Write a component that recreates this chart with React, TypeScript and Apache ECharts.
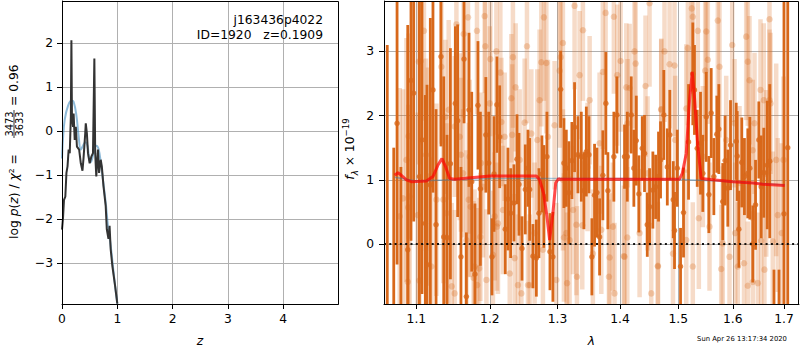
import React, { useEffect, useRef } from 'react';
import * as echarts from 'echarts';

const FONT = 'DejaVu Sans';

// ---------- Left panel: log p(z) ----------
const PZ_Z = [0, 0.018, 0.036, 0.06, 0.08, 0.1, 0.12, 0.14, 0.16, 0.17, 0.18, 0.2, 0.21, 0.23, 0.25, 0.27, 0.31, 0.34, 0.37, 0.39, 0.42, 0.43, 0.45, 0.47, 0.5, 0.53, 0.56, 0.585, 0.6, 0.62, 0.65, 0.67, 0.7, 0.72, 0.75, 0.79, 0.81, 0.84, 0.86, 0.88, 0.91, 0.96, 1.0];
const PZ_LOGP = [-2.24, -1.98, -1.56, -1.49, -0.95, -0.8, -0.42, -0.5, 0.33, 2.07, 0.33, 0.1, 0.4, -0.2, 0.1, -0.35, -0.42, -0.73, -0.9, -0.6, -0.05, 0.18, -0.05, -0.5, -0.73, -0.58, -0.5, 1.65, -0.5, -1.03, -0.42, -0.95, -0.65, -0.8, -1.25, -1.7, -2.23, -2.45, -2.15, -2.68, -3.06, -3.52, -3.92];
const PRIOR_Z = [0, 0.018, 0.05, 0.11, 0.17, 0.21, 0.26, 0.3, 0.34, 0.38, 0.42, 0.46, 0.49, 0.52, 0.57, 0.62, 0.66, 0.7, 0.74, 0.79, 0.83, 0.88, 0.92, 0.96, 1.0];
const PRIOR_LOGP = [-0.62, -0.17, 0.27, 0.58, 0.7, 0.67, 0.36, -0.1, -0.42, -0.33, -0.25, -0.33, -0.62, -0.7, -0.5, -0.33, -0.4, -0.7, -1.1, -1.62, -2.14, -2.6, -3.06, -3.52, -3.92];
const Z_TICKS = [0, 1, 2, 3, 4];
const LOGP_TICKS = [-3, -2, -1, 0, 1, 2];

// ---------- Right panel: spectrum ----------
const DARK_WAVE = [
  1.0751, 1.0930, 1.0965, 1.1039, 1.1073, 1.0888, 1.1117, 1.1139, 1.1183, 1.1218,
  1.1259, 1.1325, 1.1362, 1.1406, 1.1452, 1.1519, 1.1551, 1.1596, 1.1638, 1.1671,
  1.1707, 1.1745, 1.1790, 1.1832, 1.1866, 1.1943, 1.1983, 1.2030, 1.2059, 1.2101,
  1.2140, 1.2221, 1.2260, 1.2299, 1.2347, 1.2392, 1.2421, 1.2465, 1.2514, 1.2554,
  1.2579, 1.2628, 1.2679, 1.2718, 1.2763, 1.2793, 1.2839, 1.2885, 1.2930, 1.3049,
  1.3100, 1.3137, 1.3178, 1.3224, 1.3266, 1.3319, 1.3372, 1.3414, 1.3452, 1.3494,
  1.3541, 1.3584, 1.3622, 1.3665, 1.3718, 1.3767, 1.3800, 1.3898, 1.3948, 1.4075,
  1.4121, 1.4187, 1.4231, 1.4272, 1.4316, 1.4373, 1.4412, 1.4459, 1.4498, 1.4555,
  1.4602, 1.4653, 1.4688, 1.4745, 1.4806, 1.4850, 1.4911, 1.4933, 1.4982, 1.5040,
  1.5093, 1.5183, 1.5260, 1.5290, 1.5340, 1.5400, 1.5442, 1.5505, 1.5553, 1.5596,
  1.5645, 1.5700, 1.5738, 1.5811, 1.5855, 1.5906, 1.5957, 1.6065, 1.6084, 1.6115,
  1.6171, 1.6222, 1.6287, 1.6326, 1.6383, 1.6437, 1.6501, 1.6547, 1.6598, 1.6666,
  1.6716, 1.7000, 1.0627, 1.0709, 1.0800, 1.6800, 1.6900, 1.7076,
];
const DARK_FLUX = [
  1.88, 2.55, 2.35, 1.05, 1.62, -0.09, 0.32, -0.32, 0.92, 2.40,
  0.30, 2.92, 0.11, 0.10, 1.25, 2.19, 1.92, -0.20, 2.88, -0.82,
  2.09, 0.97, -0.47, 2.16, 0.86, 1.70, 1.26, -0.20, 1.09, 2.17,
  1.67, 0.23, 0.70, 0.48, 0.64, 1.32, 0.93, -0.07, 0.85, 1.18,
  0.85, -0.19, -0.22, 0.48, 1.09, 0.74, 1.36, -0.12, -0.20, 2.41,
  1.26, 1.18, 0.80, 1.30, 1.82, 1.39, 1.36, 0.83, 1.44, 1.39,
  -0.20, 0.76, 0.80, 0.11, 1.07, 2.19, 0.83, 1.36, 2.01, 1.36,
  1.36, 2.01, 1.18, 1.61, 0.78, 1.49, 1.41, 0.30, 0.58, 0.84,
  0.89, 1.05, 1.31, 2.01, 1.20, 1.70, 0.69, 0.21, 1.18, -0.35,
  0.49, 1.59, 2.65, 2.40, 1.49, 1.57, 1.10, 1.98, 0.77, 2.04,
  1.05, 1.71, 1.79, 0.66, 1.30, 0.87, 1.54, 1.60, 1.37, 0.23,
  1.27, 1.05, 1.10, 1.18, 0.00, 0.61, 1.62, 0.89, 1.11, 1.23,
  1.29, 0.47, -1.3, -1.5, -2.0, -1.2, -1.0, 1.5,
];
const DARK_ERR = [
  2.2, 2.5, 2.0, 3.0, 2.4, 3.5, 2.0, 2.8, 2.6, 1.6,
  1.8, 1.4, 2.5, 1.6, 1.8, 1.2, 1.5, 1.4, 1.0, 1.0,
  1.2, 1.4, 1.1, 1.0, 1.2, 0.9, 0.8, 0.6, 0.9, 0.75,
  0.8, 0.7, 0.8, 0.7, 0.6, 0.7, 0.8, 0.5, 0.7, 0.6,
  0.8, 0.5, 0.6, 0.7, 0.6, 0.8, 0.7, 0.6, 0.7, 0.6,
  0.7, 0.6, 0.8, 0.6, 0.7, 0.6, 0.7, 0.6, 0.7, 0.6,
  0.6, 0.8, 0.7, 0.6, 0.7, 0.8, 0.6, 0.7, 0.6, 0.5,
  0.7, 0.6, 0.6, 0.7, 0.6, 0.5, 0.6, 0.5, 0.6, 0.6,
  0.5, 0.7, 0.6, 0.7, 0.6, 0.7, 0.6, 0.6, 0.6, 0.6,
  0.7, 0.9, 0.8, 0.7, 0.6, 0.8, 0.6, 0.7, 0.6, 0.7,
  0.6, 0.6, 0.7, 0.6, 0.7, 0.6, 0.7, 0.6, 0.7, 0.6,
  0.7, 0.6, 0.7, 0.8, 0.6, 0.7, 0.6, 0.8, 0.7, 1.0,
  1.2, 4.0, 4.4, 3.0, 3.2, 0.8, 0.6, 3.0,
];

const LIGHT_WAVE = [
  1.1099, 1.1056, 1.1031, 1.1330, 1.1534, 1.1633, 1.1693, 1.1926, 1.1935, 1.2093,
  1.2007, 1.2332, 1.2539, 1.2309, 1.2728, 1.2793, 1.2754, 1.2830, 1.3034, 1.3266,
  1.3398, 1.3346, 1.3763, 1.3898, 1.4009, 1.4159, 1.4242, 1.4498, 1.4757, 1.4846,
  1.5351, 1.5505, 1.5534, 1.5719, 1.5750, 1.5989, 1.6256, 1.6287, 1.6711,
  1.0913, 1.0785, 1.1017, 1.1264, 1.1398, 1.1197, 1.1510, 1.1785, 1.1951, 1.1821,
  1.1671, 1.2101, 1.2286, 1.2456, 1.2187, 1.2579, 1.2778, 1.2983, 1.3188, 1.3137,
  1.3242, 1.3303, 1.3557, 1.3909, 1.4075, 1.3881, 1.4328, 1.4527, 1.4642, 1.4906,
  1.5142, 1.5260, 1.5369, 1.5565, 1.5811, 1.5938, 1.6096, 1.6213, 1.6481, 1.6611,
  1.6776,
  1.0871, 1.1152, 1.1429, 1.1579, 1.1717, 1.1902, 1.2212, 1.2431, 1.2604, 1.2854,
  1.3084, 1.3472, 1.3665, 1.4125, 1.4464, 1.4700, 1.4945, 1.5442, 1.5876, 1.6128,
  1.6383, 1.6646, 1.6844, 1.6417, 1.6033,
];
const LIGHT_FLUX = [
  3.32, 2.85, 2.84, 2.76, 3.42, 3.27, 3.53, 3.55, 3.08, 3.00,
  2.88, 2.91, 3.08, 2.27, 2.24, 3.53, 2.83, 2.82, 2.70, 3.71,
  3.33, 2.63, 3.60, 3.54, 2.85, 2.43, 3.00, 3.75, 3.00, 2.80,
  3.32, 3.31, 2.87, 3.48, 2.76, 3.10, 3.23, 2.84, 2.24,
  0.74, 0.43, 0.45, 0.69, 0.48, -0.35, -0.77, -0.35, -0.56, -0.64,
  0.06, 0.27, -0.46, -0.77, 0.53, -0.64, -0.09, -0.56, 0.06, 0.17,
  0.53, -0.51, -0.15, -0.77, -0.20, 0.27, 0.17, -0.77, -0.35, -0.15,
  0.06, -0.35, 0.40, 0.27, 0.01, -0.20, -0.35, -0.30, -0.61, -0.40,
  0.04,
  1.31, 1.05, 2.09, 1.67, 1.36, 0.89, 1.67, 1.31, 1.72, 1.67,
  1.00, 1.20, 1.57, 1.88, 1.10, 2.09, 1.62, 1.36, 1.62, 0.95,
  1.46, 1.10, 1.31, 1.88, 1.88,
];
const LIGHT_ERR = [
  1.4, 1.3, 1.6, 1.2, 1.5, 1.3, 1.4, 1.2, 1.1, 1.3,
  1.2, 1.1, 1.2, 1.0, 1.1, 1.3, 1.0, 1.1, 1.2, 1.3,
  1.1, 1.0, 1.4, 1.2, 1.1, 1.0, 1.2, 1.3, 1.1, 1.0,
  1.2, 1.3, 1.0, 1.2, 1.1, 1.2, 1.3, 1.0, 1.1,
  1.8, 2.0, 1.6, 1.5, 1.4, 1.7, 1.3, 1.2, 1.1, 1.2,
  1.4, 1.0, 1.1, 1.2, 1.0, 1.1, 1.0, 1.2, 1.0, 1.1,
  1.0, 1.1, 1.0, 1.1, 1.2, 1.0, 1.0, 1.1, 1.0, 1.2,
  1.1, 1.0, 1.1, 1.0, 1.2, 1.1, 1.0, 1.2, 1.1, 1.3,
  1.4,
  1.9, 1.7, 1.4, 1.3, 1.2, 1.1, 1.0, 1.1, 1.0, 1.2,
  1.1, 1.0, 1.1, 1.0, 1.2, 1.1, 1.0, 1.1, 1.0, 1.2,
  1.1, 1.3, 1.5, 1.1, 1.0,
];
// second batch of faint points
const LIGHT2_WAVE = [
  1.3718, 1.3954, 1.4104, 1.4429, 1.4261, 1.3505, 1.4700, 1.3693, 1.4121, 1.3828,
  1.4063, 1.4642, 1.3817, 1.4933, 1.5142, 1.5171, 1.5242, 1.5260, 1.6711, 1.5485,
  1.6320, 1.6534, 1.6598, 1.6731, 1.6990, 1.6876, 1.6547, 1.6287, 1.6383, 1.5782,
  1.6045, 1.6955, 1.2150, 1.2372, 1.3084, 1.3049, 1.2956, 1.2694, 1.2505, 1.2321,
  1.2165, 1.1998, 1.2068, 1.2116, 1.2357, 1.2653, 1.3100, 1.3294, 1.3388, 1.2406,
  1.2554, 1.3149, 1.2044, 1.1818, 1.1383, 1.1510, 1.1596, 1.1626, 1.1874, 1.1126,
  1.0899, 1.0827, 1.0894, 1.1357, 1.1703, 1.1730, 1.1866, 1.1419, 1.0888, 1.1039,
  1.1470, 1.1771, 1.1849,
];
const LIGHT2_FLUX = [
  2.68, 2.63, 2.44, 2.46, 2.81, 2.24, 2.10, 0.22, 0.10, -0.21,
  -0.19, -0.34, -0.51, 2.78, 2.11, 3.05, 3.67, 3.54, 3.50, 2.70,
  2.55, 2.40, 2.24, 2.19, 1.31, 0.45, 0.05, -0.65, -0.59, -0.39,
  0.17, 0.17, 2.67, 2.44, 3.13, 2.91, 1.85, 1.62, 1.89, 1.70,
  1.90, 2.19, 0.43, 0.32, -0.22, 0.17, 0.10, 0.30, 0.29, -0.64,
  -0.64, -0.61, -0.17, 3.32, 1.98, 1.83, 1.39, 1.10, 1.26, 1.39,
  1.68, 0.71, 0.57, 0.69, 0.69, 0.58, 0.11, 0.09, -0.59, -0.57,
  -0.66, -0.53, -0.38,
];
const LIGHT2_ERR = [
  1.2, 1.1, 1.0, 1.1, 1.2, 1.0, 1.1, 1.0, 1.1, 1.0,
  1.1, 1.0, 1.2, 1.1, 1.0, 1.2, 1.3, 1.2, 1.3, 1.1,
  1.0, 1.1, 1.2, 1.1, 1.3, 1.2, 1.1, 1.0, 1.1, 1.0,
  1.1, 1.4, 1.1, 1.0, 1.2, 1.1, 1.0, 1.1, 1.0, 1.1,
  1.0, 1.2, 1.0, 1.1, 1.0, 1.1, 1.0, 1.1, 1.0, 1.1,
  1.0, 1.1, 1.0, 1.3, 1.2, 1.1, 1.2, 1.0, 1.1, 1.5,
  1.6, 1.7, 1.6, 1.3, 1.2, 1.1, 1.0, 1.2, 1.6, 1.5,
  1.3, 1.2, 1.1,
];

const MODEL_WAVE = [1.0721, 1.0763, 1.0806, 1.0871, 1.0935, 1.1131, 1.1218, 1.1285, 1.1338, 1.1388, 1.1442, 1.1510, 1.1998, 1.2679, 1.2728, 1.2788, 1.2839, 1.2880, 1.2930, 1.2973, 1.3018, 1.3034, 1.5022, 1.5071, 1.5142, 1.5201, 1.5250, 1.5290, 1.5351, 1.5412, 1.5626, 1.6000, 1.6383, 1.6578, 1.7014];
const MODEL_FLUX = [1.07, 1.11, 1.07, 1.0, 0.97, 0.98, 1.05, 1.23, 1.33, 1.2, 1.02, 1.01, 1.06, 1.06, 1.0, 0.79, 0.43, 0.06, 0.48, 0.95, 1.02, 1.01, 1.01, 1.1, 1.41, 2.24, 2.68, 2.29, 1.52, 1.02, 1.0, 0.97, 0.95, 0.93, 0.91];
const CONT_WAVE = [1.0721, 1.1, 1.2, 1.3, 1.4, 1.5, 1.6, 1.7014];
const CONT_FLUX = [1.04, 0.98, 1.02, 1.02, 1.02, 1.01, 0.97, 0.92];
const WAVE_TICKS = [1.1, 1.2, 1.3, 1.4, 1.5, 1.6, 1.7];
const FLUX_TICKS = [0, 1, 2, 3];
const WAVE_MIN = 1.0586;
const WAVE_MAX = 1.7305;

// ---------- layout ----------
const G0 = { left: 62, top: 1, width: 276, height: 303 };
const G1 = { left: 384, top: 1, width: 415, height: 303 };
const DARK = '#d8681a';
const GRID_COLOR = '#b0b0b0';

const lg = (v: number) => Math.log10(v);
const minus = (v: number) => String(v).replace('-', '\u2212');

function errBars(wave: number[], flux: number[], err: number[]) {
  return wave.map((w, i) => [lg(w), flux[i], err[i]]);
}

function errRender(width: number, fill: string) {
  return (params: any, api: any) => {
    const x = api.value(0);
    const y = api.value(1);
    const e = api.value(2);
    const top = api.coord([x, y + e]);
    const bot = api.coord([x, y - e]);
    const cs = params.coordSys;
    const shape = echarts.graphic.clipRectByRect(
      { x: top[0] - width / 2, y: top[1], width, height: bot[1] - top[1] },
      { x: cs.x, y: cs.y, width: cs.width, height: cs.height }
    );
    if (!shape) return null;
    return { type: 'rect', shape, style: { fill } };
  };
}

function axisCommon(ticks: number[], fmt: (v: number) => string, margin: number) {
  return {
    axisLine: { show: true, onZero: false, lineStyle: { color: '#000', width: 1 } },
    axisTick: { show: true, length: 5, lineStyle: { color: '#000', width: 1 }, customValues: ticks },
    axisLabel: {
      color: '#000', fontFamily: FONT, fontSize: 12.3, margin,
      customValues: ticks, formatter: fmt,
    },
    splitLine: { show: true, lineStyle: { color: GRID_COLOR, width: 1 } },
  };
}

function buildOption(): any {
  const richBase = { fontFamily: FONT, fontSize: 12.3, color: '#000', lineHeight: 18 };
  const lightWave = LIGHT_WAVE.concat(LIGHT2_WAVE);
  const lightFlux = LIGHT_FLUX.concat(LIGHT2_FLUX);
  const lightErr = LIGHT_ERR.concat(LIGHT2_ERR);
  return {
    animation: false,
    backgroundColor: '#fff',
    textStyle: { fontFamily: FONT },
    grid: [
      { ...G0, containLabel: false },
      { ...G1, containLabel: false },
    ],
    xAxis: [
      {
        gridIndex: 0, type: 'value', min: 0, max: 4.99,
        ...axisCommon(Z_TICKS, (v: number) => minus(v), 9),
      },
      {
        gridIndex: 1, type: 'value', min: lg(WAVE_MIN), max: lg(WAVE_MAX),
        ...axisCommon(WAVE_TICKS.map(lg), (v: number) => Math.pow(10, v).toFixed(1), 9),
      },
    ],
    yAxis: [
      {
        gridIndex: 0, type: 'value', min: -3.93, max: 2.96,
        ...axisCommon(LOGP_TICKS, (v: number) => minus(v), 9),
      },
      {
        gridIndex: 1, type: 'value', min: -0.935, max: 3.785,
        ...axisCommon(FLUX_TICKS, (v: number) => minus(v), 10),
      },
    ],
    series: [
      {
        type: 'line', xAxisIndex: 0, yAxisIndex: 0, z: 3,
        data: PRIOR_Z.map((z, i) => [z, PRIOR_LOGP[i]]),
        showSymbol: false, smooth: 0.4,
        lineStyle: { color: '#1f77b4', opacity: 0.5, width: 2 },
      },
      {
        type: 'line', xAxisIndex: 0, yAxisIndex: 0, z: 4,
        data: PZ_Z.map((z, i) => [z, PZ_LOGP[i]]),
        showSymbol: false,
        lineStyle: { color: '#333333', width: 2 },
      },
      {
        type: 'custom', xAxisIndex: 1, yAxisIndex: 1, z: 2,
        data: errBars(lightWave, lightFlux, lightErr),
        encode: { x: 0, y: 1 },
        renderItem: errRender(4.5, 'rgba(216,104,26,0.24)'),
      },
      {
        type: 'scatter', xAxisIndex: 1, yAxisIndex: 1, z: 2,
        data: lightWave.map((w, i) => [lg(w), lightFlux[i]]),
        symbolSize: 6.5,
        itemStyle: { color: DARK, opacity: 0.28 },
      },
      {
        type: 'custom', xAxisIndex: 1, yAxisIndex: 1, z: 3,
        data: errBars(DARK_WAVE, DARK_FLUX, DARK_ERR),
        encode: { x: 0, y: 1 },
        renderItem: errRender(2.8, DARK),
      },
      {
        type: 'scatter', xAxisIndex: 1, yAxisIndex: 1, z: 3,
        data: DARK_WAVE.map((w, i) => [lg(w), DARK_FLUX[i]]),
        symbolSize: 5.5,
        itemStyle: { color: DARK },
      },
      {
        type: 'line', xAxisIndex: 1, yAxisIndex: 1, z: 4,
        data: CONT_WAVE.map((w, i) => [lg(w), CONT_FLUX[i]]),
        showSymbol: false,
        lineStyle: { color: '#1f77b4', opacity: 0.4, width: 1.5 },
      },
      {
        type: 'line', xAxisIndex: 1, yAxisIndex: 1, z: 5,
        data: MODEL_WAVE.map((w, i) => [lg(w), MODEL_FLUX[i]]),
        showSymbol: false,
        lineStyle: { color: '#ff0000', opacity: 0.7, width: 3 },
        markLine: {
          silent: true, symbol: ['none', 'none'], animation: false,
          label: { show: false },
          lineStyle: { color: '#000', type: [2, 3.3], width: 2, opacity: 0.9 },
          data: [{ yAxis: 0 }],
        },
      },
    ],
    graphic: [
      {
        type: 'rect', z: 100, silent: true,
        shape: { x: G0.left + 0.5, y: G0.top + 0.5, width: G0.width, height: G0.height },
        style: { fill: 'none', stroke: '#000', lineWidth: 1 },
      },
      {
        type: 'rect', z: 100, silent: true,
        shape: { x: G1.left + 0.5, y: G1.top + 0.5, width: G1.width - 1, height: G1.height },
        style: { fill: 'none', stroke: '#000', lineWidth: 1 },
      },
      {
        type: 'text', z: 100, x: 323, y: 20,
        style: { text: 'j163436p4022', fontFamily: FONT, fontSize: 12.3, fill: '#000', align: 'right', verticalAlign: 'middle' },
      },
      {
        type: 'text', z: 100, x: 323, y: 35,
        style: { text: 'ID=1920   z=0.1909', fontFamily: FONT, fontSize: 12.3, fill: '#000', align: 'right', verticalAlign: 'middle' },
      },
      {
        type: 'text', x: G0.left + G0.width / 2, y: 341,
        style: { text: 'z', fontFamily: FONT, fontSize: 12.3, fontStyle: 'italic', fill: '#000', align: 'center', verticalAlign: 'middle' },
      },
      {
        type: 'text', x: G1.left + G1.width / 2, y: 341,
        style: { text: 'λ', fontFamily: FONT, fontSize: 12.3, fontStyle: 'italic', fill: '#000', align: 'center', verticalAlign: 'middle' },
      },
      {
        type: 'text', x: 742, y: 339,
        style: { text: 'Sun Apr 26 13:17:34 2020', fontFamily: FONT, fontSize: 6.8, fill: '#000', align: 'center', verticalAlign: 'middle' },
      },
      {
        type: 'group', x: 13.5, y: 239, rotation: Math.PI / 2,
        children: [
          {
            type: 'text', x: 0, y: 0,
            style: {
              text: '{r|log }{i|p}{r|(}{i|z}{r|) / }{i|χ}{r|² =}',
              align: 'left', verticalAlign: 'middle',
              rich: {
                r: { ...richBase },
                i: { ...richBase, fontStyle: 'italic' },
              },
            },
          },
          {
            type: 'text', x: 115, y: -4.5,
            style: { text: '3473', fontFamily: FONT, fontSize: 9.8, fill: '#000', align: 'center', verticalAlign: 'middle' },
          },
          {
            type: 'line',
            shape: { x1: 101, y1: 0.5, x2: 129, y2: 0.5 },
            style: { stroke: '#000', lineWidth: 0.8 },
          },
          {
            type: 'text', x: 115, y: 6,
            style: { text: '3633', fontFamily: FONT, fontSize: 9.8, fill: '#000', align: 'center', verticalAlign: 'middle' },
          },
          {
            type: 'text', x: 133, y: 0,
            style: { text: '= 0.96', fontFamily: FONT, fontSize: 12.3, fill: '#000', align: 'left', verticalAlign: 'middle' },
          },
        ],
      },
      {
        type: 'group', x: 350, y: 149, rotation: Math.PI / 2,
        children: [
          {
            type: 'text', x: 0, y: 0,
            style: {
              text: '{i|f}{sub|λ}{r| × 10}{sup|−19}',
              align: 'center', verticalAlign: 'middle',
              rich: {
                r: { ...richBase },
                i: { ...richBase, fontStyle: 'italic' },
                sub: { ...richBase, fontSize: 8.6, fontStyle: 'italic', verticalAlign: 'bottom', lineHeight: 10 },
                sup: { ...richBase, fontSize: 8.6, verticalAlign: 'top', lineHeight: 10 },
              },
            },
          },
        ],
      },
    ],
  };
}

export default function App() {
  const ref = useRef<HTMLDivElement>(null);
  useEffect(() => {
    if (!ref.current) return;
    const chart = echarts.init(ref.current, null, { renderer: 'svg' });
    chart.setOption(buildOption());
    return () => chart.dispose();
  }, []);
  return (
    <div
      ref={ref}
      style={{ position: 'absolute', left: 0, top: 0, width: 800, height: 350, background: '#fff' }}
    />
  );
}
